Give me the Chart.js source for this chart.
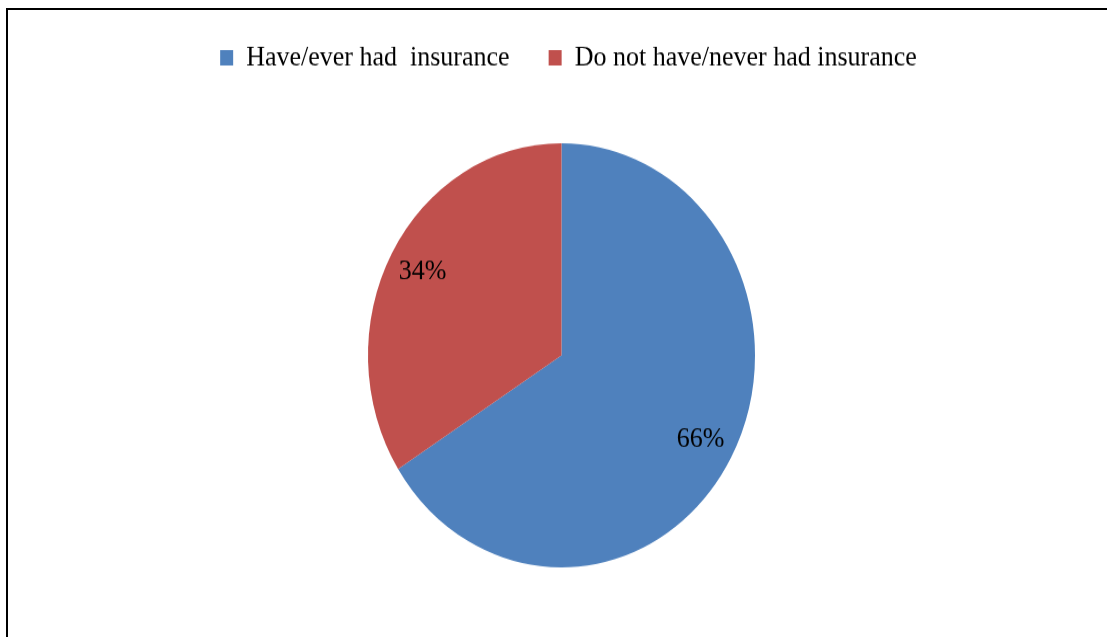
<!DOCTYPE html>
<html>
<head>
<meta charset="utf-8">
<script src="https://cdn.jsdelivr.net/npm/chart.js@4"></script>
<style>
  html, body { margin: 0; padding: 0; background: #fff; overflow: hidden; width: 1107px; height: 637px; }
  #frame {
    position: absolute; left: 6px; top: 8px; width: 2000px; height: 2000px;
    border-top: 2px solid #000; border-left: 2px solid #000;
  }
  #wrap {
    position: absolute; left: 0; top: -8px; width: 1123px; height: 580px;
    transform: scaleY(1.096); transform-origin: top left;
  }
</style>
</head>
<body>
<div id="frame"></div>
<div id="wrap"><canvas id="insuranceChart"></canvas></div>
<script>
const categories = ['Have/ever had  insurance', 'Do not have/never had insurance'];
const shares = [66, 34];
const sliceColors = ['#4F81BD', '#C0504D'];

const FONT = "'Liberation Serif', 'Times New Roman', serif";

// phần trăm ghi trên từng lát
const sliceLabels = {
  id: 'sliceLabels',
  afterDatasetsDraw(chart) {
    const ctx = chart.ctx;
    const meta = chart.getDatasetMeta(0);
    ctx.save();
    ctx.font = '26px ' + FONT;
    ctx.fillStyle = '#000';
    ctx.textAlign = 'center';
    ctx.textBaseline = 'middle';
    meta.data.forEach((arc, i) => {
      const p = arc.getProps(['x', 'y', 'startAngle', 'endAngle', 'outerRadius'], true);
      const mid = (p.startAngle + p.endAngle) / 2;
      const r = p.outerRadius * 0.82;
      ctx.fillText(shares[i] + '%', p.x + Math.cos(mid) * r, p.y + Math.sin(mid) * r);
    });
    ctx.restore();
  }
};

// đẩy chú thích sang phải một chút so với tâm hình tròn
const legendShift = {
  id: 'legendShift',
  afterLayout(chart) {
    if (chart.legend) {
      chart.legend.left += 7;
      chart.legend.right += 7;
    }
  }
};

const ctx = document.getElementById('insuranceChart').getContext('2d');
new Chart(ctx, {
  type: 'pie',
  data: {
    labels: categories,
    datasets: [{
      data: shares,
      backgroundColor: sliceColors,
      borderWidth: 0,
      radius: 193.5
    }]
  },
  options: {
    responsive: true,
    maintainAspectRatio: false,
    animation: false,
    layout: { padding: { top: 8 } },
    plugins: {
      tooltip: { enabled: false },
      legend: {
        position: 'top',
        labels: {
          boxWidth: 13,
          boxHeight: 14,
          padding: 39,
          color: '#000',
          font: { family: FONT, size: 26 }
        }
      }
    }
  },
  plugins: [sliceLabels, legendShift]
});
</script>
</body>
</html>
